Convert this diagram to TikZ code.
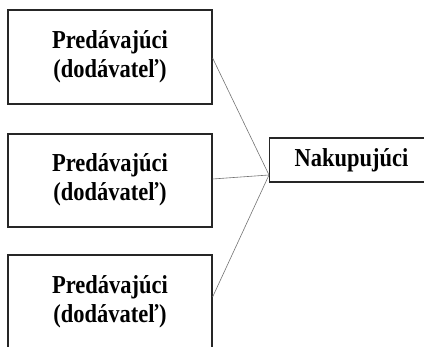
\documentclass[tikz,border=0pt]{standalone}
\usepackage{fontspec}
\setmainfont{Liberation Serif}
\newcommand{\tallt}[1]{\scalebox{1}[1.15]{\fontsize{22.5}{25.2}\selectfont\bfseries\begin{tabular}{@{}c@{}}#1\end{tabular}}}
\begin{document}
\begin{tikzpicture}[x=1pt,y=-1pt,
  boxst/.style={draw=black!85,line width=1.2pt,rectangle,inner sep=0pt,minimum width=204pt},
  lbl/.style={inner sep=0pt},
  link/.style={draw=black!55,line width=0.6pt}]
\useasboundingbox (0,0) rectangle (424,347);
\clip (0,0) rectangle (424,347);
\node[boxst,minimum height=94pt] (s1) at (110,57) {};
\node[boxst,minimum height=93pt] (s2) at (110,180.5) {};
\node[boxst,minimum height=94pt] (s3) at (110,302) {};
\node[lbl] (t1) at (s1.center) {\tallt{Predávajúci\\(dodávateľ)}};
\node[lbl] (t2) at (s2.center) {\tallt{Predávajúci\\(dodávateľ)}};
\node[lbl] (t3) at (110,302) {\tallt{Predávajúci\\(dodávateľ)}};
\node[boxst,minimum width=170pt,minimum height=44pt,anchor=west] (b) at (269,160) {};
\node[lbl] (bt) at (351.5,161) {\tallt{Nakupujúci}};
\coordinate (m) at (269,175);
\draw[link] (s1.east |- 0,58) -- (m);
\draw[link] (s2.east |- 0,179) -- (m);
\draw[link] (s3.east |- 0,297) -- (m);
\end{tikzpicture}
\end{document}
